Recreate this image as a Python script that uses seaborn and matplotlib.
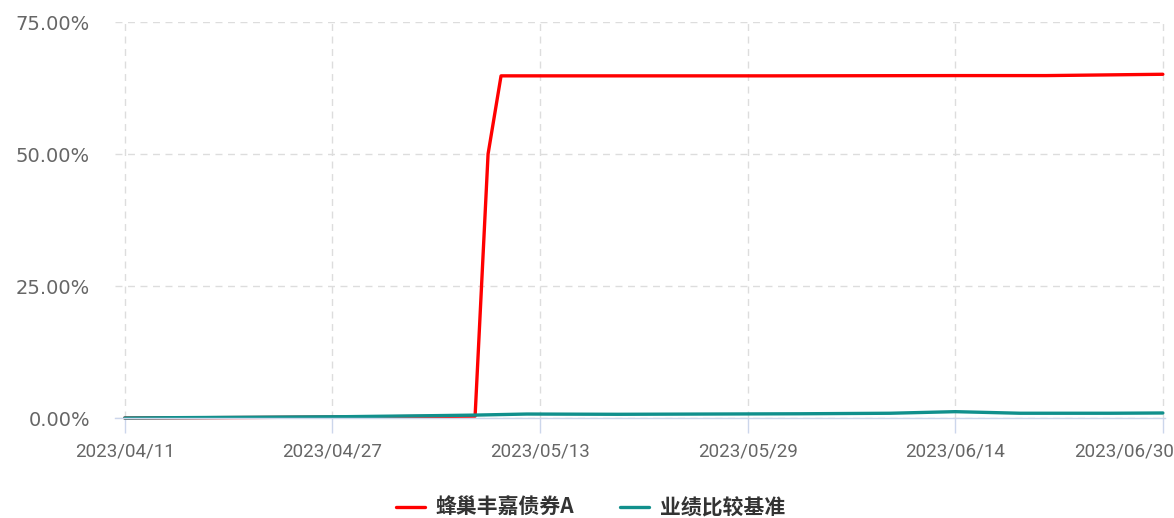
import pandas as pd
import matplotlib
matplotlib.use("Agg")
import matplotlib.pyplot as plt
import matplotlib.dates as mdates
import matplotlib.transforms as mtransforms
from matplotlib.ticker import FuncFormatter
import seaborn as sns

# data (cumulative return, %)
fund_name = "蜂巢丰嘉债券A"
bench_name = "业绩比较基准"

fund_dates = ["2023-04-11", "2023-04-21", "2023-04-28", "2023-05-05", "2023-05-08",
              "2023-05-09", "2023-05-10", "2023-05-19", "2023-05-31", "2023-06-14",
              "2023-06-21", "2023-06-30"]
fund_values = [0.0, 0.1, 0.2, 0.3, 0.35, 50.0, 64.8, 64.8, 64.8, 64.85, 64.85, 65.1]

bench_dates = ["2023-04-11", "2023-04-14", "2023-04-21", "2023-04-28", "2023-05-05",
               "2023-05-08", "2023-05-12", "2023-05-19", "2023-05-26", "2023-06-02",
               "2023-06-09", "2023-06-14", "2023-06-19", "2023-06-26", "2023-06-30"]
bench_values = [0.0, 0.05, 0.15, 0.25, 0.45, 0.55, 0.75, 0.7, 0.75, 0.8, 0.9, 1.2,
                0.9, 0.9, 0.95]

tick_dates = ["2023-04-11", "2023-04-27", "2023-05-13", "2023-05-29", "2023-06-14", "2023-06-30"]
y_ticks = [0, 25, 50, 75]

fund = pd.DataFrame({"date": pd.to_datetime(fund_dates), "value": fund_values})
bench = pd.DataFrame({"date": pd.to_datetime(bench_dates), "value": bench_values})

sns.set_style("white")
plt.rcParams["font.family"] = ["Roboto", "Noto Sans CJK SC", "DejaVu Sans"]

fig = plt.figure(figsize=(11.74, 5.18), dpi=100)
ax = fig.add_axes([115 / 1174, 1 - 418 / 518, 1050 / 1174, 396 / 518])

sns.lineplot(data=fund, x="date", y="value", ax=ax, color="#ff0000", linewidth=2.4,
             label=fund_name, clip_on=False)
sns.lineplot(data=bench, x="date", y="value", ax=ax, color="#11908c", linewidth=2.4,
             label=bench_name, clip_on=False)

start = pd.Timestamp("2023-04-11") - pd.Timedelta(hours=18)
end = pd.Timestamp("2023-06-30") + pd.Timedelta(hours=4)
ax.set_xlim(start, end)
ax.set_ylim(0, 75)

ax.set_xticks(pd.to_datetime(tick_dates))
ax.xaxis.set_major_formatter(mdates.DateFormatter("%Y/%m/%d"))
ax.set_yticks(y_ticks)
ax.yaxis.set_major_formatter(FuncFormatter(lambda v, p: f"{v:.2f}%"))

ax.grid(True, color="#dddddd", linestyle=(0, (5, 4)), linewidth=1)
ax.set_xlabel("")
ax.set_ylabel("")
for side in ["top", "right", "left"]:
    ax.spines[side].set_visible(False)
ax.spines["bottom"].set_color("#ccd6eb")
ax.spines["bottom"].set_linewidth(1)

ax.tick_params(axis="x", colors="#ccd6eb", labelcolor="#666666", labelsize=13.5,
               length=11, width=1, pad=7, bottom=True)
ax.tick_params(axis="y", labelcolor="#666666", labelsize=14, length=0, pad=18)
for lbl in ax.get_yticklabels():
    lbl.set_family("DejaVu Sans")

# last date label sits flush with the right edge
fig.canvas.draw()
last = ax.get_xticklabels()[-1]
last.set_horizontalalignment("right")
last.set_transform(last.get_transform() + mtransforms.ScaledTranslation(11 / 100, 0, fig.dpi_scale_trans))

handles, labels = ax.get_legend_handles_labels()
ax.get_legend().remove()
leg = fig.legend(handles, labels, loc="center", bbox_to_anchor=(0.503, 0.02), ncol=2,
                 frameon=False, handlelength=1.4, handletextpad=0.5, columnspacing=2.2,
                 prop={"family": ["Noto Sans CJK SC"], "size": 15, "weight": "bold"})
for t in leg.get_texts():
    t.set_color("#333333")

fig.savefig("out.png", dpi=100)
